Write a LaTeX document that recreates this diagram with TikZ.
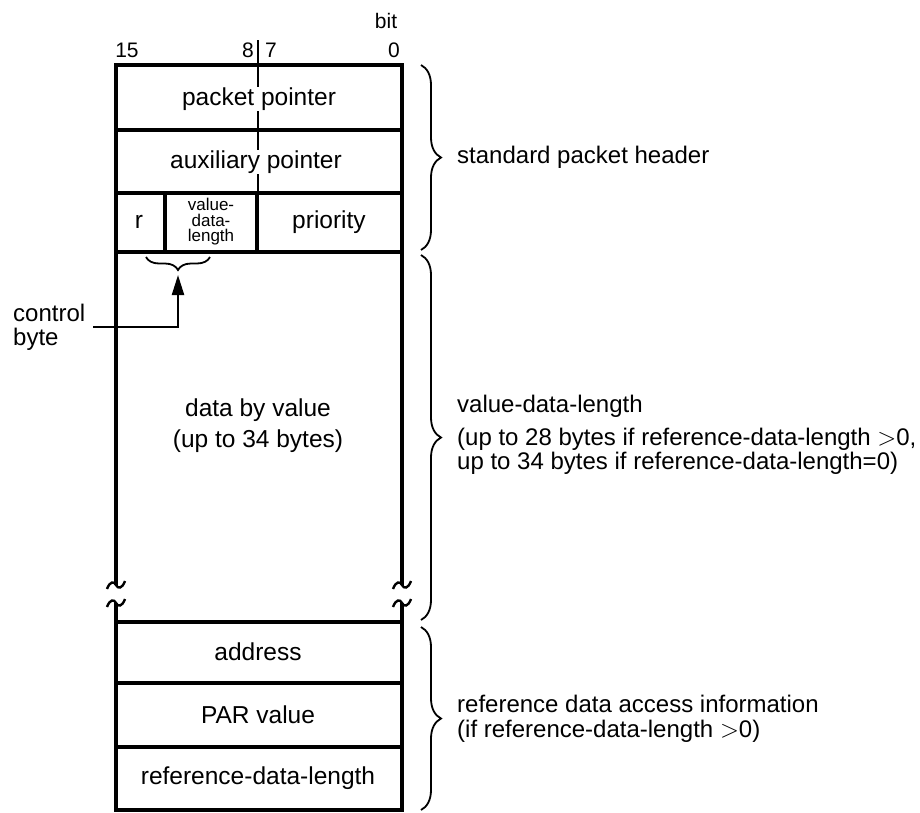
\documentclass[tikz,border=0pt]{standalone}
\usepackage{fontspec}
\setmainfont{Liberation Sans}
\usetikzlibrary{decorations.pathreplacing,arrows.meta}
\begin{document}
\begin{tikzpicture}[x=1pt,y=-1pt,
  frame/.style={line width=3.2pt},
  thinline/.style={line width=2.2pt},
  bracestyle/.style={decorate,decoration={brace,amplitude=#1},line width=1.8pt},
  lbl/.style={font=\fontsize{24.5}{28}\selectfont,inner sep=1pt},
  boxlbl/.style={lbl,fill=white},
  side/.style={font=\fontsize{24}{28}\selectfont,anchor=base west,inner sep=0pt},
  bitlbl/.style={font=\fontsize{21}{24}\selectfont,inner sep=0pt},
  smalllbl/.style={font=\fontsize{17}{15.5}\selectfont,align=center,inner sep=0pt},
  tildemark/.pic={\draw[line width=2.4pt] (-9,4) .. controls (-6,-4) and (-2,-4) .. (0,0) .. controls (2,4) and (6,4) .. (9,-4);},
]
\useasboundingbox (0,0) rectangle (920,812);

% bit numbering
\node[bitlbl] (bit) at (386,21) {bit};
\node[bitlbl] (b15) at (127,50) {15};
\node[bitlbl] (b8) at (248,50) {8};
\node[bitlbl] (b7) at (271,50) {7};
\node[bitlbl] (b0) at (394,50) {0};

% centre byte divider
\draw[thinline] (258,40) -- (258,193);

% frame: top part
\draw[frame] (116,585) -- (116,65) -- (402,65) -- (402,585);
\draw[frame] (116,130) -- (402,130);
\draw[frame] (116,193) -- (402,193);
\draw[frame] (116,252) -- (402,252);
\draw[frame] (165,193) -- (165,252);
\draw[frame] (257,193) -- (257,252);
% break marks
\pic at (116,585) {tildemark};
\pic at (402,585) {tildemark};
\pic at (116,603) {tildemark};
\pic at (402,603) {tildemark};
% frame: bottom part
\draw[frame] (116,603) -- (116,810) -- (402,810) -- (402,603);
\draw[frame] (116,622) -- (402,622);
\draw[frame] (116,683) -- (402,683);
\draw[frame] (116,747) -- (402,747);

% field labels
\node[boxlbl] (pp) at (259,99) {packet pointer};
\node[boxlbl] (ap) at (256,162) {auxiliary pointer};
\node[lbl] (r) at (139,222) {r};
\node[smalllbl] (vdl) at (211,222) {value-\\data-\\length};
\node[lbl] (prio) at (329,222) {priority};
\node[lbl] (dbv1) at (258,410) {data by value};
\node[lbl] (dbv2) at (258,441) {(up to 34 bytes)};
\node[lbl] (addr) at (258,652) {address};
\node[lbl] (par) at (258,715) {PAR value};
\node[lbl] (rdl) at (258,778) {reference-data-length};

% control byte brace and arrow
\draw[bracestyle=13pt] (210,257) -- (146,257);
\coordinate (ubtip) at (178,275);
\coordinate (cbstart) at (93,327);
\coordinate (cbcorner) at (178,327);
\draw[thinline,-{Triangle[length=20pt,width=12pt]}] (cbstart) -- (cbcorner) -- (ubtip);
\node[side] (ctrl) at (13,321) {control};
\node[side] (byte) at (13,345) {byte};

% right braces
\draw[bracestyle=20pt] (421,65) -- (421,250);
\draw[bracestyle=20pt] (421,255) -- (421,620);
\draw[bracestyle=20pt] (421,627) -- (421,810);

\node[side] (sph) at (457,163) {standard packet header};
\node[side] (vd1) at (457,412) {value-data-length};
\node[side] (vd2) at (457,445) {(up to 28 bytes if reference-data-length $>$0,};
\node[side] (vd3) at (457,469) {up to 34 bytes if reference-data-length=0)};
\node[side] (ra1) at (457,712) {reference data access information};
\node[side] (ra2) at (457,737) {(if reference-data-length $>$0)};
\end{tikzpicture}
\end{document}
